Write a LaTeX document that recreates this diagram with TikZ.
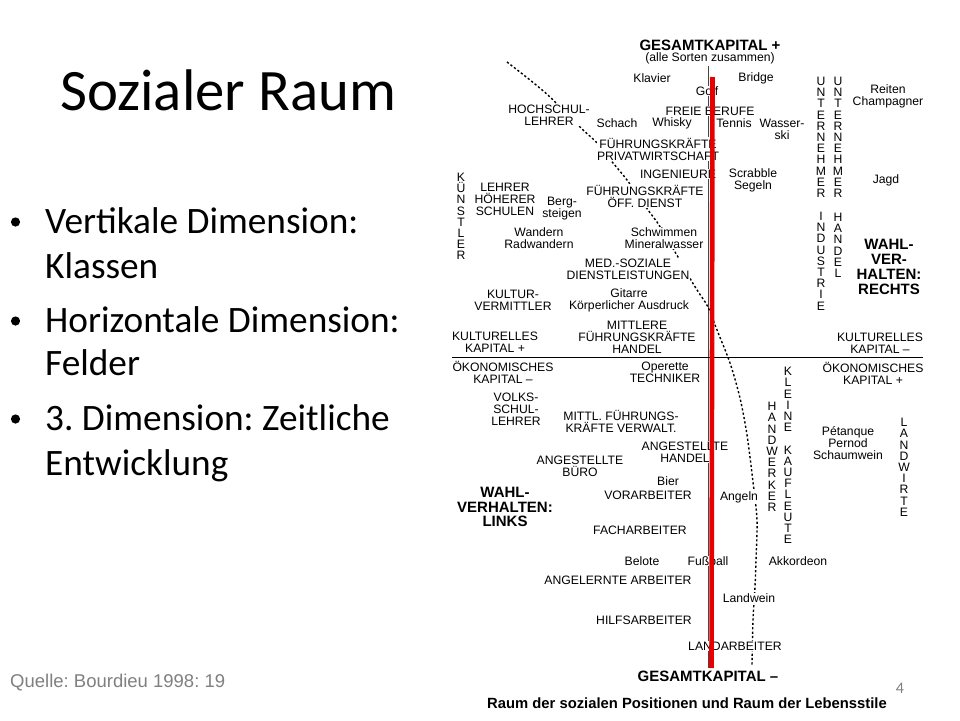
\documentclass[tikz,border=0pt]{standalone}
\usepackage{fontspec}
\setmainfont{Liberation Sans}
\newfontfamily\calib{Carlito}
\frenchspacing
\definecolor{scanred}{RGB}{232,0,0}
\definecolor{axisgray}{RGB}{70,70,70}
\definecolor{footgray}{RGB}{128,128,128}
\tikzset{
  lab/.style={font=\fontsize{12.2}{12}\selectfont, align=center, inner sep=0.4pt, fill=white},
  bhead/.style={font=\bfseries\fontsize{15}{14.8}\selectfont, align=center, inner sep=0.4pt, fill=white},
  vword/.style={font=\fontsize{12.2}{11.2}\selectfont, align=center, inner sep=0pt, anchor=north},
  btext/.style={font=\calib\fontsize{37.3}{44}\selectfont, anchor=base west, inner sep=0pt},
  dashline/.style={line width=1.4pt, dash pattern=on 2.2pt off 2.2pt},
}
\begin{document}
\begin{tikzpicture}[x=1pt,y=-1pt]
\fill[white] (0,0) rectangle (960,720);
\useasboundingbox (0,0) rectangle (960,720);

% ---------- slide text ----------
\node[font=\calib\fontsize{58.7}{60}\selectfont, anchor=base west, inner sep=0pt] (title) at (60,110) {Sozialer Raum};

\fill (15.5,222) circle[radius=4.6pt];
\fill (15.5,321) circle[radius=4.6pt];
\fill (15.5,419) circle[radius=4.6pt];
\node[btext] (b1) at (45,233) {Vertikale Dimension:};
\node[btext] (b1b) at (45,278) {Klassen};
\node[btext] (b2) at (45,332) {Horizontale Dimension:};
\node[btext] (b2b) at (45,375) {Felder};
\node[btext] (b3) at (45,430) {3. Dimension: Zeitliche};
\node[btext] (b3b) at (45,475) {Entwicklung};

\node[font=\fontsize{18.5}{19}\selectfont, text=footgray, anchor=west, inner sep=0pt] (quelle) at (10,683) {Quelle: Bourdieu 1998: 19};
\node[font=\calib\fontsize{16}{16}\selectfont, text=footgray, inner sep=0pt] (pnum) at (900,688) {4};

% ---------- diagram lines ----------
\coordinate (axtop) at (708.3,66);
\coordinate (axbot) at (708.3,668);
\draw[axisgray, line width=1pt] (axtop) -- (axbot);
\coordinate (hl) at (452,357.5);
\coordinate (hr) at (923,357.5);
\draw[line width=1.8pt] (hl) -- (hr);
\draw[dashline] plot[smooth] coordinates {(507,62) (530,80) (550,97) (580,127) (597,143) (613,163) (627,180) (648,210) (657,222) (678,257) (688,275) (697,290) (708,307) (717,330) (730,363) (740,398) (747,435) (753,482) (757,520) (756,560) (755,587) (753,620) (752,665)};

% ---------- diagram labels ----------
\node[bhead] (gesp) at (710,45) {GESAMTKAPITAL +};
\node[lab] (alle) at (710,58) {(alle Sorten zusammen)};
\node[lab] (klavier) at (652,78) {Klavier};
\node[lab] (bridge) at (756,78) {Bridge};
\node[lab] (golf) at (707,91) {Golf};
\node[lab] (freie) at (710,111) {FREIE BERUFE};
\node[lab] (schach) at (617,123) {Schach};
\node[lab] (whisky) at (672,123) {Whisky};
\node[lab] (tennis) at (734,123) {Tennis};
\node[lab] (wasser) at (782,129) {Wasser-\\ski};
\node[lab] (hoch) at (549,115) {HOCHSCHUL-\\LEHRER};
\node[lab] (fpriv) at (658,149) {FÜHRUNGSKRÄFTE\\PRIVATWIRTSCHAFT};
\node[lab] (ing) at (678,174) {INGENIEURE};
\node[lab] (scrab) at (753,180) {Scrabble\\Segeln};
\node[lab] (foff) at (645,196) {FÜHRUNGSKRÄFTE\\ÖFF. DIENST};
\node[lab] (lehrer) at (505,199) {LEHRER\\HÖHERER\\SCHULEN};
\node[lab] (berg) at (562,209) {Berg-\\steigen};
\node[lab] (wand) at (539,238) {Wandern\\Radwandern};
\node[lab] (schw) at (664,238) {Schwimmen\\Mineralwasser};
\node[lab] (med) at (628,269) {MED.-SOZIALE\\DIENSTLEISTUNGEN};
\node[lab] (kultv) at (513,300) {KULTUR-\\VERMITTLER};
\node[lab] (gitarre) at (629,300) {Gitarre\\Körperlicher Ausdruck};
\node[lab] (kulp) at (495,342) {KULTURELLES\\KAPITAL +};
\node[lab] (mittl) at (637,337) {MITTLERE\\FÜHRUNGSKRÄFTE\\HANDEL};
\node[lab] (oekm) at (503,372) {ÖKONOMISCHES\\KAPITAL –};
\node[lab] (oper) at (665,372) {Operette\\TECHNIKER};
\node[lab] (volks) at (516,409) {VOLKS-\\SCHUL-\\LEHRER};
\node[lab] (mittlv) at (621,421) {MITTL. FÜHRUNGS-\\KRÄFTE VERWALT.};
\node[lab] (angh) at (685,452) {ANGESTELLTE\\HANDEL};
\node[lab] (angb) at (580,466) {ANGESTELLTE\\BÜRO};
\node[lab] (bier) at (668,481) {Bier};
\node[lab] (vor) at (648,495) {VORARBEITER};
\node[bhead] (links) at (505,507) {WAHL-\\VERHALTEN:\\LINKS};
\node[lab] (fach) at (640,530) {FACHARBEITER};
\node[lab] (belote) at (642,561) {Belote};
\node[lab] (fuss) at (708,561) {Fußball};
\node[lab] (akk) at (798,561) {Akkordeon};
\node[lab] (angel) at (618,580) {ANGELERNTE ARBEITER};
\node[lab] (landw) at (749,598) {Landwein};
\node[lab] (hilfs) at (644,620) {HILFSARBEITER};
\node[lab] (landarb) at (735,646) {LANDARBEITER};
\node[bhead] (gesm) at (708,676) {GESAMTKAPITAL –};
\node[font=\bfseries\fontsize{14.8}{15}\selectfont, inner sep=0pt] (raum) at (687,703) {Raum der sozialen Positionen und Raum der Lebensstile};
\node[lab] (reiten) at (888,96) {Reiten\\Champagner};
\node[lab] (jagd) at (886,180) {Jagd};
\node[bhead] (rechts) at (889,267) {WAHL-\\VER-\\HALTEN:\\RECHTS};
\node[lab] (kulm) at (880,343) {KULTURELLES\\KAPITAL –};
\node[lab] (oekp) at (873,373) {ÖKONOMISCHES\\KAPITAL +};
\node[lab] (pet) at (848,443) {Pétanque\\Pernod\\Schaumwein};
\node[lab] (angeln) at (739,497) {Angeln};

% vertical words
\node[vword] (kuenst) at (461,173) {K\\Ü\\N\\S\\T\\L\\E\\R};
\node[vword] (unt1) at (821,77) {U\\N\\T\\E\\R\\N\\E\\H\\M\\E\\R};
\node[vword] (unt2) at (838,77) {U\\N\\T\\E\\R\\N\\E\\H\\M\\E\\R};
\node[vword] (indu) at (821,212) {I\\N\\D\\U\\S\\T\\R\\I\\E};
\node[vword] (hand) at (838,213) {H\\A\\N\\D\\E\\L};
\node[vword] (klein) at (788,367) {K\\L\\E\\I\\N\\E\\[11.2pt]K\\A\\U\\F\\L\\E\\U\\T\\E};
\node[vword] (handw) at (772,402) {H\\A\\N\\D\\W\\E\\R\\K\\E\\R};
\node[vword] (landwi) at (904,418) {L\\A\\N\\D\\W\\I\\R\\T\\E};

% red emphasis line
\coordinate (rtop) at (712.5,77);
\coordinate (rbot) at (711.5,668);
\draw[scanred, line width=4.6pt] (rtop) -- (rbot);
\end{tikzpicture}
\end{document}
